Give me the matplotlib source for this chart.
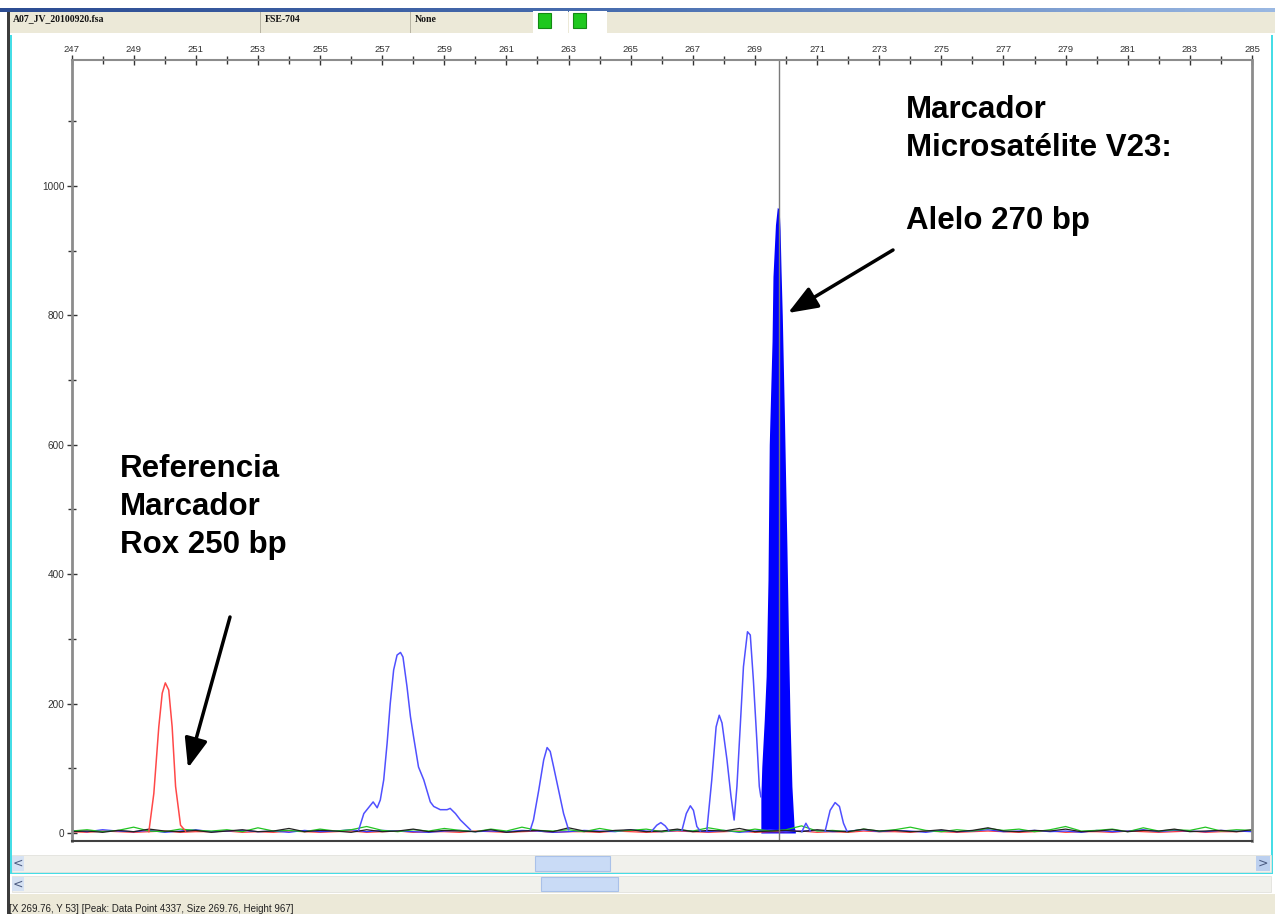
import numpy as np
import matplotlib
matplotlib.use('Agg')
import matplotlib.pyplot as plt
from matplotlib.patches import Rectangle

W, H = 1275, 914
nan = float('nan')

# size axis (bp) and peak heights
x_major = list(range(247, 286, 2))
x_minor = list(range(248, 285, 2))
y_major = [0, 200, 400, 600, 800, 1000]
y_minor = [100, 300, 500, 700, 900, 1100]
cursor_bp = 269.76

# red: ROX size standard 250 bp
red_bp = [249.49, 249.65, 249.81, 249.92, 250.02, 250.13, 250.24, 250.35, 250.51, 250.67]
red_h = [2, 61, 164, 216, 232, 221, 164, 72, 12, 3]

# blue: microsatellite V23 trace (peaks separated by nan)
blue_bp = [256.24, 256.41, 256.71, 256.84, 256.94, 257.05, 257.16, 257.26, 257.37, 257.48,
           257.59, 257.67, 257.80, 257.91, 258.01, 258.17, 258.34, 258.55, 258.66, 258.87,
           259.09, 259.19, 259.36, 259.52, 259.84, nan,
           261.77, 261.87, 262.04, 262.20, 262.31, 262.41, 262.52, 262.68, 262.84, 263.00, nan,
           265.68, 265.84, 265.97, 266.11, 266.22, nan,
           266.65, 266.79, 266.92, 267.02, 267.13, 267.24, nan,
           267.45, 267.61, 267.75, 267.85, 267.94, 268.10, 268.23, 268.33, 268.42, 268.52,
           268.63, 268.76, 268.85, 268.95, 269.06, 269.14, 269.19, nan,
           270.51, 270.64, 270.78, nan,
           271.26, 271.42, 271.58, 271.72, 271.85, 271.96]
blue_h = [4, 30, 48, 39, 51, 82, 139, 200, 252, 275,
          279, 272, 226, 180, 149, 102, 82, 48, 41, 36,
          36, 38, 30, 20, 5, nan,
          5, 20, 66, 113, 132, 126, 102, 66, 30, 5, nan,
          3, 12, 16, 11, 4, nan,
          4, 30, 42, 35, 10, 3, nan,
          3, 82, 164, 182, 170, 113, 56, 20, 72, 159,
          257, 311, 306, 236, 144, 72, 56, nan,
          2, 15, 3, nan,
          3, 35, 47, 41, 15, 3]

# called allele 270 bp (filled peak, height 967)
allele_bp = [269.19, 269.22, 269.30, 269.36, 269.42, 269.46, 269.55, 269.58, 269.62, 269.66,
             269.72, 269.78, 269.81, 269.84, 269.88, 269.95, 270.03, 270.08, 270.13, 270.19,
             270.26, 270.30]
allele_h = [56, 102, 175, 242, 391, 600, 760, 860, 900, 940,
            967, 964, 932, 870, 800, 640, 440, 300, 175, 72,
            10, 3]

# baseline noise of the four dyes, one value every 0.5 bp from 247 to 285
green_noise = [3, 5, 2, 4, 9, 3, 2, 6, 4, 3, 5, 2, 8, 3, 4, 2, 6, 3, 5, 10, 4, 2, 5, 3, 7, 4,
               2, 6, 3, 9, 4, 3, 5, 2, 7, 3, 4, 6, 2, 5, 3, 8, 4, 2, 6, 3, 5, 11, 3, 4, 2, 6,
               3, 5, 9, 4, 2, 5, 3, 7, 4, 6, 2, 5, 10, 3, 4, 6, 2, 8, 3, 5, 4, 9, 3, 5, 4]
black_noise = [2, 3, 1, 4, 2, 6, 3, 2, 4, 1, 3, 5, 2, 3, 7, 2, 4, 3, 1, 5, 2, 3, 6, 2, 4, 3,
               2, 5, 1, 3, 4, 2, 8, 3, 2, 4, 5, 2, 3, 6, 2, 4, 3, 7, 2, 3, 4, 2, 5, 3, 2, 6,
               3, 4, 2, 3, 5, 2, 4, 8, 3, 2, 4, 3, 6, 2, 3, 5, 2, 4, 3, 6, 2, 3, 4, 2, 5]
red_noise = [2, 1, 3, 2, 1, 2, 3, 1, 2, 2, 3, 1, 2, 1, 3, 2, 1, 2, 3, 1, 2, 3, 1, 2, 2, 1,
             3, 2, 1, 2, 3, 1, 2, 2, 1, 3, 2, 1, 2, 3, 2, 1, 2, 3, 1, 2, 2, 3, 1, 2, 1, 3,
             2, 2, 1, 3, 2, 1, 2, 3, 2, 1, 2, 3, 1, 2, 2, 1, 3, 2, 1, 2, 3, 1, 2, 2, 3]
blue_noise = [4, 2, 5, 3, 2, 4, 1, 3, 5, 2, 3, 4, 2, 3, 1, 4, 2, 3, 5, 2, 4, 3, 2, 1, 3, 4,
              2, 3, 2, 4, 3, 1, 2, 4, 3, 2, 5, 3, 2, 4, 3, 2, 4, 1, 3, 5, 2, 3, 4, 2, 3, 5,
              2, 4, 3, 1, 4, 2, 3, 5, 2, 3, 4, 2, 3, 1, 4, 2, 3, 5, 2, 4, 3, 2, 4, 3, 2]

header_file = "A07_JV_20100920.fsa"
header_std = "FSE-704"
header_panel = "None"
status_text = "[X 269.76, Y 53] [Peak: Data Point 4337, Size 269.76, Height 967]"


def box(fig, x0, y0, x1, y1, color, ec='none', lw=0):
    """Rectangle given in screen pixels (origin top-left)."""
    fig.patches.append(Rectangle((x0 / W, 1 - y1 / H), (x1 - x0) / W, (y1 - y0) / H,
                                 transform=fig.transFigure, facecolor=color,
                                 edgecolor=ec, linewidth=lw))


def label(fig, x, y, s, **kw):
    fig.text(x / W, 1 - y / H, s, **kw)


fig = plt.figure(figsize=(W / 100, H / 100), dpi=100)
fig.patch.set_facecolor('white')

# window chrome
bar = fig.add_axes([0, 1 - 12 / H, 1, 4 / H])
bar.imshow(np.linspace(0, 1, 256)[None, :], aspect='auto',
           cmap=matplotlib.colors.LinearSegmentedColormap.from_list('t', ['#2c4c92', '#4a6fb0', '#9ab8e2']))
bar.axis('off')
box(fig, 10, 12, W, 33, '#ece9d8')
box(fig, 533, 11, 568, 33, 'white')
box(fig, 569, 11, 607, 33, 'white')
box(fig, 538, 13, 551, 28, '#1ec81e', ec='#138a13', lw=0.8)
box(fig, 573, 13, 586, 28, '#1ec81e', ec='#138a13', lw=0.8)
for sx in [260, 410]:
    box(fig, sx, 12, sx + 1, 33, '#b8b4a4')
hdr = dict(fontsize=7, fontweight='bold', family='Liberation Serif', va='center', color='#111')
label(fig, 13, 19, header_file, **hdr)
label(fig, 265, 19, header_std, **hdr)
label(fig, 415, 19, header_panel, **hdr)

box(fig, 7, 12, 10, H, '#3c3c3c')
box(fig, 10, 35, 12, 874, '#46dde6')
box(fig, 1271, 35, 1273, 874, '#46dde6')
box(fig, 10, 872, 1273, 874, '#46dde6')
for y0, y1, t0, t1, right in [(855, 872, 535, 610, True), (876, 892, 541, 618, False)]:
    box(fig, 12, y0, 1271, y1, '#f1f1ec', ec='#e2e2dc', lw=0.6)
    box(fig, t0, y0 + 1, t1, y1 - 1, '#c9dbf6', ec='#a9c1e9', lw=0.8)
    box(fig, 12, y0 + 1, 24, y1 - 1, '#d6e2f3')
    label(fig, 18, (y0 + y1) / 2, '<', fontsize=9, ha='center', va='center', color='#4a5a80')
    if right:
        box(fig, 1256, y0 + 1, 1270, y1 - 1, '#bcd0ef')
        label(fig, 1263, (y0 + y1) / 2, '>', fontsize=9, ha='center', va='center', color='#4a5a80')
box(fig, 10, 894, W, H, '#ece9d8')
label(fig, 9, 909, status_text, fontsize=7, family='Liberation Sans', va='center', color='#222')

# electropherogram panel
ax = fig.add_axes([71.5 / W, 1 - 841 / H, (1252 - 71.5) / W, (841 - 60) / H])
ax.set_xlim(247, 285)
ax.set_ylim(-12.4, 1194.7)

noise_bp = np.linspace(247, 285, len(green_noise))
ax.plot(noise_bp, red_noise, color='#ff3a3a', lw=0.9)
ax.plot(noise_bp, blue_noise, color='#3838ff', lw=0.9)
ax.plot(noise_bp, green_noise, color='#22c422', lw=0.9)
ax.plot(noise_bp, black_noise, color='#222222', lw=0.9)

ax.plot(red_bp, red_h, color='#ff4848', lw=1.1)
ax.plot(blue_bp, blue_h, color='#5050ff', lw=1.1)
ax.fill_between(allele_bp, 0, allele_h, color='#0000ff', lw=0)
ax.axvline(cursor_bp, color='#7a7a7a', lw=1)

ax.xaxis.tick_top()
ax.set_xticks(x_major)
ax.set_xticks(x_minor, minor=True)
ax.set_yticks(y_major)
ax.set_yticks(y_minor, minor=True)
ax.tick_params(which='both', direction='inout', color='#333333', width=1)
ax.tick_params(which='major', length=7)
ax.tick_params(which='minor', length=6)
ax.tick_params(axis='x', labelsize=6.8, pad=1, labelcolor='#333333')
ax.tick_params(axis='y', labelsize=7.2, pad=1.5, labelcolor='#333333')
for t in ax.get_xticklabels() + ax.get_yticklabels():
    t.set_family('Liberation Sans')
for side in ['left', 'right', 'top']:
    ax.spines[side].set_color('#8c8c8c')
    ax.spines[side].set_linewidth(2)
ax.spines['top'].set_linewidth(1.5)
ax.spines['bottom'].set_color('#404040')
ax.spines['bottom'].set_linewidth(1.5)

# annotations
note = dict(fontsize=22.5, fontweight='bold', family='Liberation Sans', va='baseline', color='black')
label(fig, 906, 118, 'Marcador', **note)
label(fig, 906, 156, 'Microsatélite V23:', **note)
label(fig, 906, 229, 'Alelo 270 bp', **note)
label(fig, 120, 477, 'Referencia', **note)
label(fig, 120, 515, 'Marcador', **note)
label(fig, 120, 553, 'Rox 250 bp', **note)

arrow = dict(arrowstyle='-|>,head_length=0.9,head_width=0.35', color='black', lw=2.5,
             shrinkA=0, shrinkB=0, mutation_scale=20)
ax.annotate('', xy=(788, H - 313), xycoords='figure pixels',
            xytext=(893, H - 250), textcoords='figure pixels', arrowprops=arrow)
ax.annotate('', xy=(188, H - 768), xycoords='figure pixels',
            xytext=(230, H - 617), textcoords='figure pixels', arrowprops=arrow)

plt.savefig('out.png', dpi=100)
plt.close('all')
